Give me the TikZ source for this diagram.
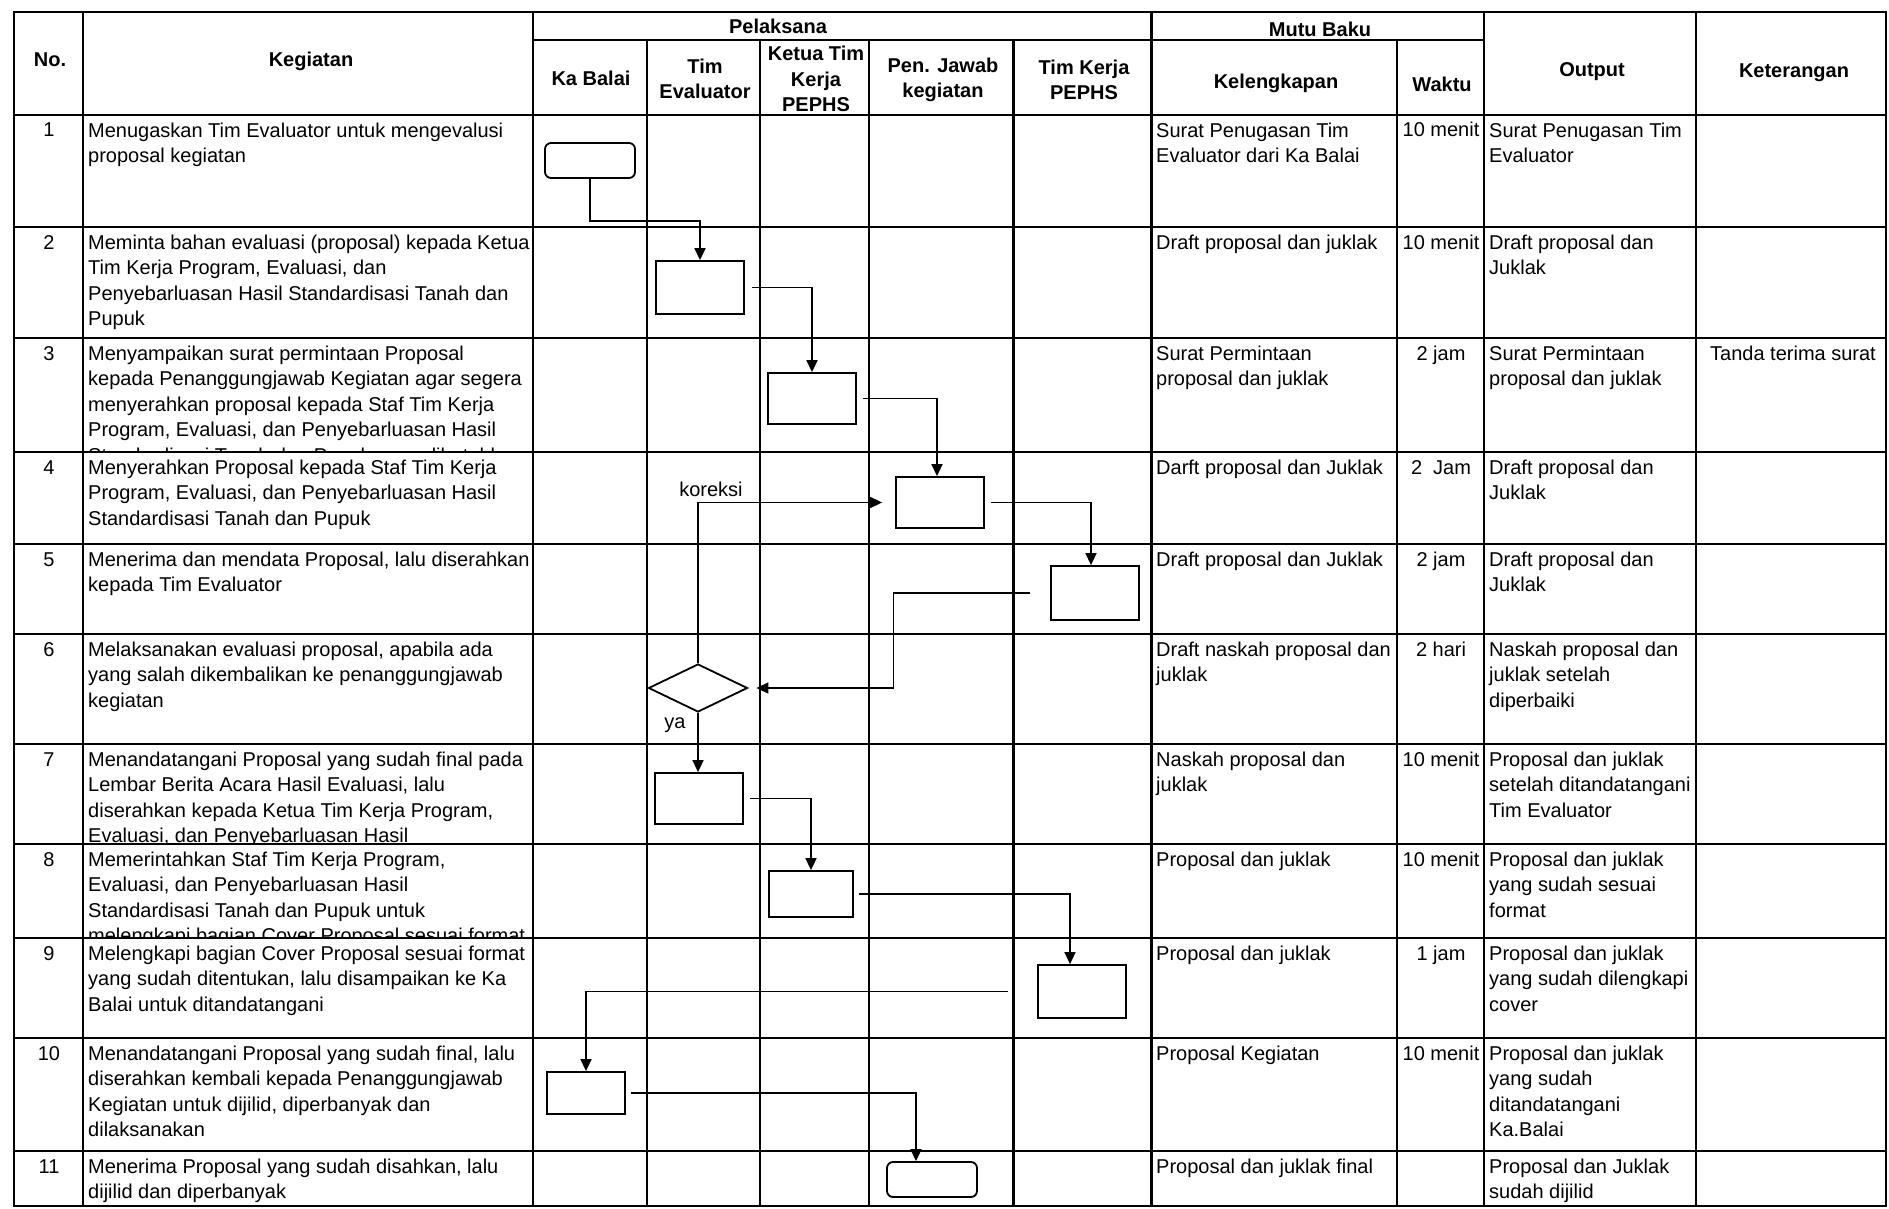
\documentclass[tikz,border=0pt]{standalone}
\usepackage{fontspec}
\setmainfont{Liberation Sans}
\usetikzlibrary{arrows.meta,shapes.geometric,calc}
\newcommand\sA{\rule{0pt}{15pt}}
\newcommand\cell[7]{\begin{scope}\clip (#2,#5) rectangle (#3,#6);
 \node[ct] (#1) at (#4,#5+7) {\sA #7};\end{scope}}
\tikzset{
  grid/.style={line width=2.4pt, line cap=rect},
  box/.style={draw, line width=1.8pt, rectangle, inner sep=0pt},
  rbox/.style={box, rounded corners=6pt},
  dec/.style={draw, line width=1.8pt, diamond, inner sep=0pt, minimum width=99pt, minimum height=48pt},
  conn/.style={line width=1.6pt},
  arr/.style={conn, -{Triangle[length=12pt,width=11pt]}},
  hd/.style={font=\fontsize{20}{25.5}\selectfont\bfseries, align=center, inner sep=0pt},
  ct/.style={font=\fontsize{20}{25.5}\selectfont, align=left, anchor=north west, inner sep=0pt},
  nb/.style={font=\fontsize{20}{25.5}\selectfont, anchor=base, inner sep=0pt},
  lab/.style={font=\fontsize{20}{24}\selectfont, inner sep=0pt},
}
\begin{document}
\begin{tikzpicture}[x=1pt, y=-1pt]
\fill[white] (0,0) rectangle (1889,1209);
\useasboundingbox (0,0) rectangle (1889,1209);

% table grid
\foreach \y in {12,115,227,338,452,544,634,744,844,938,1038,1151,1206}
  \draw[grid] (14,\y) -- (1886,\y);
\draw[grid] (533,40) -- (1484,40);
\foreach \x in {14,83,533,1151.5,1484,1696,1886}
  \draw[grid] (\x,12) -- (\x,1206);
\foreach \x in {647,760,869,1013.5,1397}
  \draw[grid] (\x,40) -- (\x,1206);

% headers
\node[hd] (hNo) at (50,60) {No.};
\node[hd] (hKeg) at (311,61) {Kegiatan};
\node[hd] (hPel) at (778,26) {Pelaksana};
\node[hd] (hKa) at (591,78) {Ka Balai};
\node[hd] (hTE) at (705,79) {Tim\\Evaluator};
\node[hd] (hKT) at (816,79) {Ketua Tim\\Kerja\\PEPHS};
\node[hd] (hPJ) at (943,80) {Pen. Jawab\\kegiatan};
\node[hd] (hTK) at (1084,80) {Tim Kerja\\PEPHS};
\node[hd] (hMB) at (1320,29) {Mutu Baku};
\node[hd] (hKel) at (1276,83) {Kelengkapan};
\node[hd] (hWak) at (1442,84) {Waktu};
\node[hd] (hOut) at (1592,72) {Output};
\node[hd] (hKet) at (1794,73) {Keterangan};

% numbers
\node[nb] (n1) at (49,137) {1};
\node[nb] (n2) at (49,249) {2};
\node[nb] (n3) at (49,360) {3};
\node[nb] (n4) at (49,474) {4};
\node[nb] (n5) at (49,566) {5};
\node[nb] (n6) at (49,656) {6};
\node[nb] (n7) at (49,766) {7};
\node[nb] (n8) at (49,866) {8};
\node[nb] (n9) at (49,960) {9};
\node[nb] (n10) at (49,1060) {10};
\node[nb] (n11) at (49,1173) {11};

% kegiatan
\cell{k1}{83}{533}{88}{115}{227}{Menugaskan Tim Evaluator untuk mengevalusi\\proposal kegiatan}
\cell{k2}{83}{533}{88}{227}{338}{Meminta bahan evaluasi (proposal) kepada Ketua\\Tim Kerja Program, Evaluasi, dan\\Penyebarluasan Hasil Standardisasi Tanah dan\\Pupuk}
\cell{k3}{83}{533}{88}{338}{452}{Menyampaikan surat permintaan Proposal\\kepada Penanggungjawab Kegiatan agar segera\\menyerahkan proposal kepada Staf Tim Kerja\\Program, Evaluasi, dan Penyebarluasan Hasil\\Standardisasi Tanah dan Pupuk yang dibutuhkan}
\cell{k4}{83}{533}{88}{452}{544}{Menyerahkan Proposal kepada Staf Tim Kerja\\Program, Evaluasi, dan Penyebarluasan Hasil\\Standardisasi Tanah dan Pupuk}
\cell{k5}{83}{533}{88}{544}{634}{Menerima dan mendata Proposal, lalu diserahkan\\kepada Tim Evaluator}
\cell{k6}{83}{533}{88}{634}{744}{Melaksanakan evaluasi proposal, apabila ada\\yang salah dikembalikan ke penanggungjawab\\kegiatan}
\cell{k7}{83}{533}{88}{744}{844}{Menandatangani Proposal yang sudah final pada\\Lembar Berita Acara Hasil Evaluasi, lalu\\diserahkan kepada Ketua Tim Kerja Program,\\Evaluasi, dan Penyebarluasan Hasil}
\cell{k8}{83}{533}{88}{844}{938}{Memerintahkan Staf Tim Kerja Program,\\Evaluasi, dan Penyebarluasan Hasil\\Standardisasi Tanah dan Pupuk untuk\\melengkapi bagian Cover Proposal sesuai format}
\cell{k9}{83}{533}{88}{938}{1038}{Melengkapi bagian Cover Proposal sesuai format\\yang sudah ditentukan, lalu disampaikan ke Ka\\Balai untuk ditandatangani}
\cell{k10}{83}{533}{88}{1038}{1151}{Menandatangani Proposal yang sudah final, lalu\\diserahkan kembali kepada Penanggungjawab\\Kegiatan untuk dijilid, diperbanyak dan\\dilaksanakan}
\cell{k11}{83}{533}{88}{1151}{1206}{Menerima Proposal yang sudah disahkan, lalu\\dijilid dan diperbanyak}

% kelengkapan
\cell{l1}{1151.5}{1397}{1156}{115}{227}{Surat Penugasan Tim\\Evaluator dari Ka Balai}
\cell{l2}{1151.5}{1397}{1156}{227}{338}{Draft proposal dan juklak}
\cell{l3}{1151.5}{1397}{1156}{338}{452}{Surat Permintaan\\proposal dan juklak}
\cell{l4}{1151.5}{1397}{1156}{452}{544}{Darft proposal dan Juklak}
\cell{l5}{1151.5}{1397}{1156}{544}{634}{Draft proposal dan Juklak}
\cell{l6}{1151.5}{1397}{1156}{634}{744}{Draft naskah proposal dan\\juklak}
\cell{l7}{1151.5}{1397}{1156}{744}{844}{Naskah proposal dan\\juklak}
\cell{l8}{1151.5}{1397}{1156}{844}{938}{Proposal dan juklak}
\cell{l9}{1151.5}{1397}{1156}{938}{1038}{Proposal dan juklak}
\cell{l10}{1151.5}{1397}{1156}{1038}{1151}{Proposal Kegiatan}
\cell{l11}{1151.5}{1397}{1156}{1151}{1206}{Proposal dan juklak final}

% waktu
\node[nb] (w1) at (1441,137) {10 menit};
\node[nb] (w2) at (1441,249) {10 menit};
\node[nb] (w3) at (1441,360) {2 jam};
\node[nb] (w4) at (1441,474) {2\ \ Jam};
\node[nb] (w5) at (1441,566) {2 jam};
\node[nb] (w6) at (1441,656) {2 hari};
\node[nb] (w7) at (1441,766) {10 menit};
\node[nb] (w8) at (1441,866) {10 menit};
\node[nb] (w9) at (1441,960) {1 jam};
\node[nb] (w10) at (1441,1060) {10 menit};

% output
\cell{o1}{1484}{1696}{1489}{115}{227}{Surat Penugasan Tim\\Evaluator}
\cell{o2}{1484}{1696}{1489}{227}{338}{Draft proposal dan\\Juklak}
\cell{o3}{1484}{1696}{1489}{338}{452}{Surat Permintaan\\proposal dan juklak}
\cell{o4}{1484}{1696}{1489}{452}{544}{Draft proposal dan\\Juklak}
\cell{o5}{1484}{1696}{1489}{544}{634}{Draft proposal dan\\Juklak}
\cell{o6}{1484}{1696}{1489}{634}{744}{Naskah proposal dan\\juklak setelah\\diperbaiki}
\cell{o7}{1484}{1696}{1489}{744}{844}{Proposal dan juklak\\setelah ditandatangani\\Tim Evaluator}
\cell{o8}{1484}{1696}{1489}{844}{938}{Proposal dan juklak\\yang sudah sesuai\\format}
\cell{o9}{1484}{1696}{1489}{938}{1038}{Proposal dan juklak\\yang sudah dilengkapi\\cover}
\cell{o10}{1484}{1696}{1489}{1038}{1151}{Proposal dan juklak\\yang sudah\\ditandatangani\\Ka.Balai}
\cell{o11}{1484}{1696}{1489}{1151}{1206}{Proposal dan Juklak\\sudah dijilid}

% keterangan
\node[nb] (kt3) at (1793,360) {Tanda terima surat};

% flow shapes
\node[rbox, minimum width=90pt, minimum height=35pt] (b1) at (590,160.5) {};
\node[box, minimum width=88pt, minimum height=53pt] (b2) at (700,287.5) {};
\node[box, minimum width=88pt, minimum height=51pt] (b3) at (812,398.5) {};
\node[box, minimum width=88pt, minimum height=51pt] (b4) at (940,502.5) {};
\node[box, minimum width=88pt, minimum height=54pt] (b5) at (1095,593) {};
\node[dec] (d) at (698,688) {};
\node[box, minimum width=88pt, minimum height=51pt] (b6) at (699,798.5) {};
\node[box, minimum width=84pt, minimum height=46pt] (b7) at (811,894) {};
\node[box, minimum width=88pt, minimum height=53pt] (b8) at (1082,991.5) {};
\node[box, minimum width=78pt, minimum height=42pt] (b9) at (586,1093) {};
\node[rbox, minimum width=90pt, minimum height=35pt] (b10) at (932,1179.5) {};

% connectors
\draw[arr] (b1.south) -- ++(0,42) -| (b2.north);
\draw[arr] ($(b2.east)+(7,0)$) -| (b3.north);
\draw[arr] ($(b3.east)+(6,0)$) -| ($(b4.north)+(-3,0)$);
\draw[arr] ($(b4.east)+(6,0)$) -| ($(b5.north)+(-4,0)$);
\draw[arr, shorten >=8pt] ($(b5.west)+(-20,0)$) -| ($(d.east)+(145,0)$) -- (d.east);
\draw[arr, shorten >=13pt] (d.north) |- (b4.west);
\node[lab] (lk) at (711,489) {koreksi};
\draw[arr] (d.south) -- (d.south |- b6.north);
\node[lab] (ly) at (675,725) {ya};
\draw[arr] ($(b6.east)+(6,0)$) -| (b7.north);
\draw[arr] ($(b7.east)+(5,0)$) -| ($(b8.north)+(-12,0)$);
\draw[arr] ($(b8.west)+(-29,0)$) -| (b9.north);
\draw[arr] ($(b9.east)+(5,0)$) -| ($(b10.north)+(-16,0)$);
\end{tikzpicture}
\end{document}
